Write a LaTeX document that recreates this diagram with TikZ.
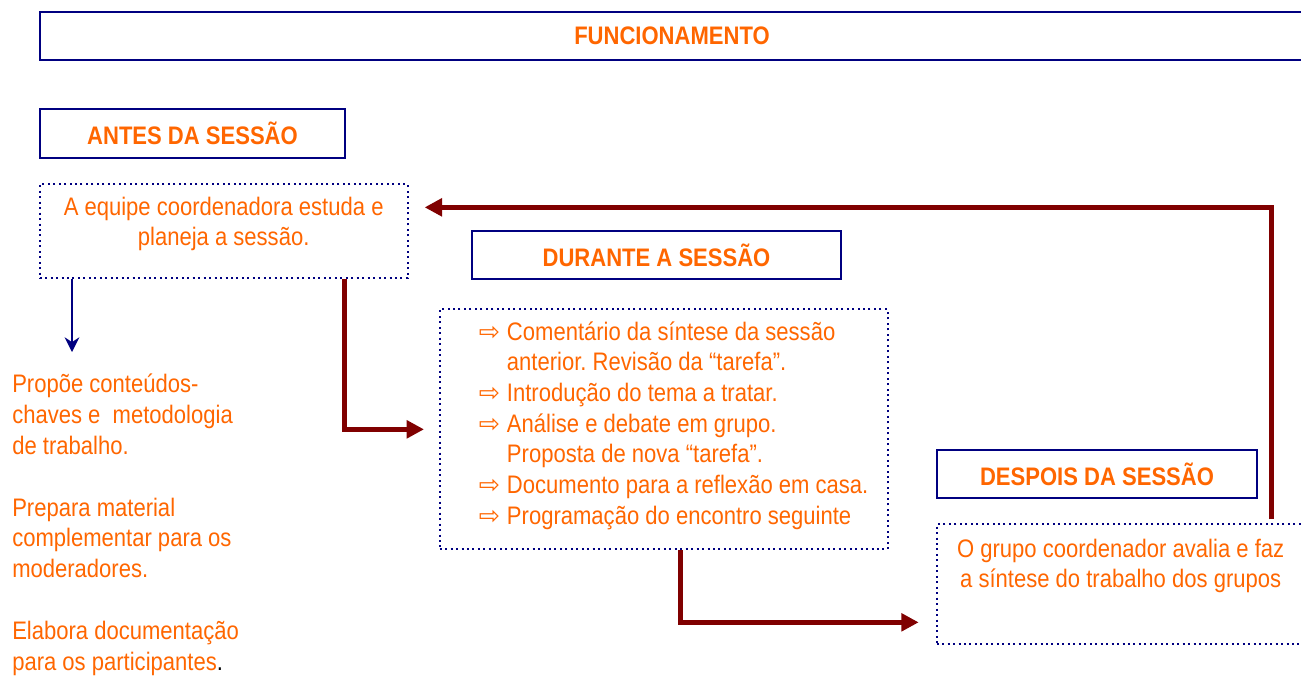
\documentclass[tikz,border=0pt]{standalone}
\usepackage{fontspec}
\setmainfont{Liberation Sans}[FakeStretch=0.87]
\newfontfamily\symfont{DejaVu Sans}
\usepackage{tikz}
\usetikzlibrary{arrows.meta,calc,positioning}
\definecolor{laranja}{HTML}{FF6600}
\definecolor{marinho}{HTML}{000080}
\definecolor{vinho}{HTML}{800000}
\frenchspacing
\tikzstyle{head}  =[draw=marinho, line width=2pt, text=laranja,
                    font=\fontsize{19}{22.5}\selectfont\bfseries]
\tikzstyle{dotbox}=[draw=marinho, line width=1.5pt,
                    dash pattern=on 1.5pt off 2.6pt, text=laranja,
                    align=center, font=\fontsize{19}{22.5}\selectfont]
\tikzstyle{txt}   =[text=laranja, align=left, inner sep=0pt,
                    font=\fontsize{19}{23.1}\selectfont]
\tikzstyle{flow}  =[draw=vinho, line width=3.75pt,
                    -{Triangle[length=13pt,width=13pt]}]
\tikzstyle{down}  =[draw=marinho, line width=1.4pt,
                    -{Stealth[length=11pt,width=11pt]}]
\newcommand{\seta}{\hspace*{15pt}\makebox[21pt][l]{\symfont\fontsize{19}{19}\selectfont\char"21E8}}
\newcommand{\recuo}{\hspace*{36pt}}

\begin{document}
\begin{tikzpicture}[x=0.75pt, y=-0.75pt]
    \useasboundingbox (0,0) rectangle (1301,679);
    \node (func) [head, minimum width=948pt, minimum height=36pt] at (672,36) {FUNCIONAMENTO};
    \node (antes) [head, minimum width=228.75pt, minimum height=36.75pt] at (192.5,133.5) {ANTES DA SESSÃO};
    \node (plan) [dotbox, minimum width=276pt, minimum height=70.5pt,
                  below right=18pt and 0pt of antes.south west]
        {A equipe coordenadora estuda e\\planeja a sessão.\\[-7.5pt]~};
    \node (durante) [head, minimum width=276.75pt, minimum height=36pt] at (656.5,255) {DURANTE A SESSÃO};
    \node (dur) [dotbox, align=left, minimum width=336pt, minimum height=180pt,
                 font=\fontsize{19}{23}\selectfont,
                 below left=21pt and 24pt of durante.south west, anchor=north west]
        {\seta Comentário da síntese da sessão\\
         \recuo anterior. Revisão da “tarefa”.\\
         \seta Introdução do tema a tratar.\\
         \seta Análise e debate em grupo.\\
         \recuo Proposta de nova “tarefa”.\\
         \seta Documento para a reflexão em casa.\\
         \seta Programação do encontro seguinte\\[-13pt]~};
    \node (despois) [head, minimum width=240pt, minimum height=36pt] at (1097,474) {DESPOIS DA SESSÃO};
    \node (post) [dotbox, minimum width=276pt, minimum height=90pt,
                  below right=18pt and 0pt of despois.south west]
        {O grupo coordenador avalia e faz\\a síntese do trabalho dos grupos\\[9pt]~};
    \node (prop) [txt, anchor=north west] at (12,374)
        {Propõe conteúdos-\\chaves e~ metodologia\\de trabalho.\\[23.1pt]
         Prepara material\\complementar para os\\moderadores.\\[23.1pt]
         Elabora documentação\\para os participantes{\color{black}.}};
    \coordinate (tip) at (72,352);
    % setas
    \draw[down] (tip |- plan.south) -- (tip);
    \draw[flow] ($(plan.south west)!0.826!(plan.south east)$) |- ([xshift=-11pt]dur.west);
    \draw[flow] ($(dur.south west)!0.538!(dur.south east)$) |- ($(post.south west)+(-17,-23)$);
    \draw[flow] ($(post.north west)+(336,-4)$) |- ($(plan.north east)+(16,24)$);
\end{tikzpicture}
\end{document}
